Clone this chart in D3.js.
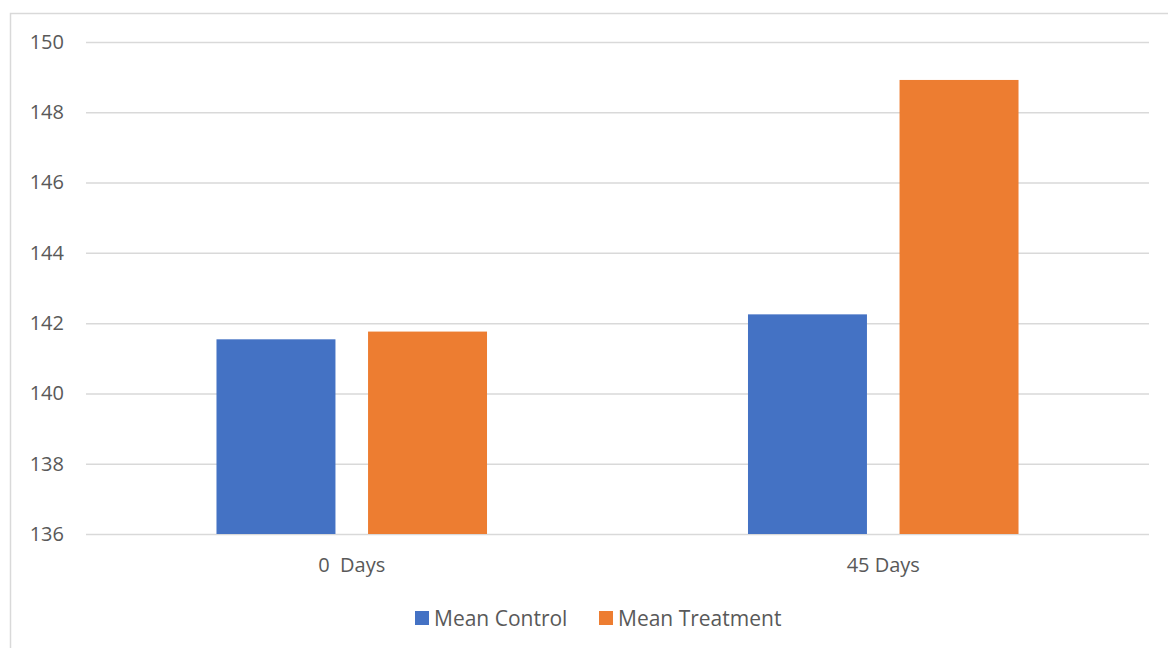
<!DOCTYPE html>
<html>
<head>
<meta charset="utf-8">
<script src="https://cdn.jsdelivr.net/npm/d3@7"></script>
<style>
  html, body { margin: 0; padding: 0; background: #fff; }
  svg { display: block; }
  text { font-family: "Open Sans", "Liberation Sans", sans-serif; fill: #595959; }
</style>
</head>
<body>
<svg id="chart" width="1168" height="648"></svg>
<script>
// Categories and series
const categories = ["0  Days", "45 Days"];
const seriesNames = ["Mean Control", "Mean Treatment"];
const meanControl = [141.54, 142.25];
const meanTreatment = [141.76, 148.92];
const yTicks = [136, 138, 140, 142, 144, 146, 148, 150];
const colors = ["#4472C4", "#ED7D31"];

const svg = d3.select("#chart");
const W = 1168, H = 648;

// Chart frame
svg.append("rect")
  .attr("x", 10.5).attr("y", 13.5)
  .attr("width", W + 10).attr("height", H + 10)
  .attr("fill", "#fff").attr("stroke", "#d9d9d9").attr("stroke-width", 1.5);

const plot = { left: 86, right: 1149, top: 42, bottom: 534 };

const y = d3.scaleLinear().domain([136, 150]).range([plot.bottom, plot.top]);

const x0 = d3.scaleBand().domain(categories)
  .range([plot.left, plot.right])
  .paddingInner(0.491).paddingOuter(0.2455);

const x1 = d3.scaleBand().domain(seriesNames)
  .range([0, x0.bandwidth()])
  .paddingInner(0.215).paddingOuter(0);

// Gridlines via axis
const yAxis = d3.axisLeft(y).tickValues(yTicks)
  .tickSize(-(plot.right - plot.left)).tickPadding(22);

const gy = svg.append("g")
  .attr("transform", `translate(${plot.left},0)`)
  .call(yAxis);
gy.select(".domain").remove();
gy.selectAll(".tick line").attr("stroke", "#d9d9d9").attr("stroke-width", 1.5);
gy.selectAll(".tick text")
  .attr("font-size", 20).attr("fill", "#595959")
  .style("font-family", "'Open Sans', 'Liberation Sans', sans-serif");

// Bars
const rows = categories.map((c, i) => ({ cat: c, vals: [meanControl[i], meanTreatment[i]] }));

const groups = svg.append("g").selectAll("g")
  .data(rows).join("g")
  .attr("transform", d => `translate(${x0(d.cat)},0)`);

groups.selectAll("rect")
  .data(d => d.vals.map((v, j) => ({ name: seriesNames[j], v, j })))
  .join("rect")
  .attr("x", d => x1(d.name))
  .attr("y", d => y(d.v))
  .attr("width", x1.bandwidth())
  .attr("height", d => y(136) - y(d.v))
  .attr("fill", d => colors[d.j]);

// X axis labels
const xAxis = d3.axisBottom(x0).tickSize(0).tickPadding(24);
const gx = svg.append("g")
  .attr("transform", `translate(0,${plot.bottom})`)
  .call(xAxis);
gx.select(".domain").remove();
gx.selectAll(".tick text")
  .attr("font-size", 20).attr("fill", "#595959")
  .style("white-space", "pre")
  .attr("xml:space", "preserve")
  .style("font-family", "'Open Sans', 'Liberation Sans', sans-serif");

// Legend
const legend = svg.append("g").attr("transform", "translate(415,611)");
const legendX = [0, 184];
seriesNames.forEach((name, i) => {
  const g = legend.append("g").attr("transform", `translate(${legendX[i]},0)`);
  g.append("rect").attr("width", 14).attr("height", 14).attr("fill", colors[i]);
  g.append("text").attr("x", 19).attr("y", 14.5)
    .attr("font-size", 21).text(name);
});
</script>
</body>
</html>
